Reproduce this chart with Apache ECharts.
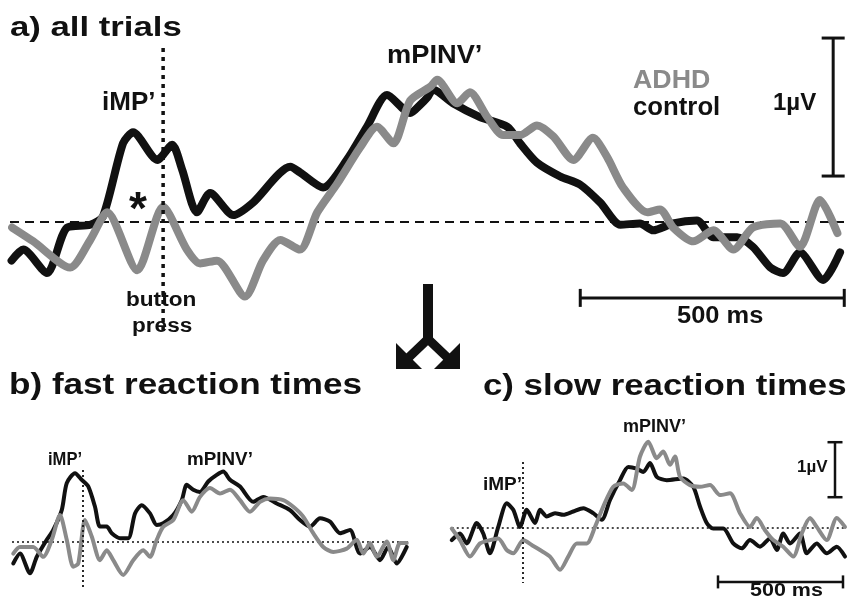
<!DOCTYPE html>
<html>
<head>
<meta charset="utf-8">
<script src="https://cdn.jsdelivr.net/npm/echarts@6/dist/echarts.min.js"></script>
<style>
  html, body { margin: 0; padding: 0; background: #fff; }
  #main { width: 849px; height: 598px; }
</style>
</head>
<body>
<div id="main"></div>
<script>
// time in ms (0 = button press), amplitude in µV

// a) all trials
var timeAControl = [-287,-265,-220,-182,-138,-114,-76,-57,-11,17,36,64,89,133,170,241,259,303,348,386,424,468,487,500,511,549,600,652,676,708,752,790,828,866,903,928,966,1011,1042,1087,1117,1150,1174,1206,1250,1282];
var uvAControl   = [-0.28,-0.20,-0.37,-0.04,-0.02,0.04,0.57,0.65,0.45,0.56,0.38,0.07,0.21,0.05,0.14,0.40,0.36,0.25,0.45,0.69,0.92,0.79,0.85,0.90,0.96,0.86,0.76,0.69,0.57,0.43,0.33,0.27,0.14,-0.02,-0.01,-0.06,-0.01,0.01,-0.11,-0.11,-0.18,-0.33,-0.37,-0.22,-0.42,-0.22];
var timeAAdhd = [-286,-246,-176,-138,-106,-49,0,45,70,102,155,189,222,259,292,330,373,405,436,468,506,519,557,581,614,644,676,708,739,777,814,841,871,917,941,966,1004,1042,1080,1117,1169,1206,1244,1277];
var uvAAdhd   = [-0.04,-0.14,-0.33,-0.13,0.07,-0.35,0.11,-0.20,-0.30,-0.28,-0.54,-0.28,-0.13,-0.20,0.07,0.28,0.54,0.69,0.57,0.88,0.98,1.03,0.86,0.94,0.76,0.63,0.63,0.70,0.62,0.45,0.61,0.47,0.25,0.07,0.09,-0.04,-0.14,-0.06,-0.20,-0.04,-0.01,-0.18,0.16,-0.08];

// b) fast reaction times
var timeBControl = [-279,-252,-212,-185,-145,-119,-85,-65,-32,-5,21,48,68,95,115,148,181,208,235,268,295,321,361,395,415,441,468,501,535,561,588,628,681,721,775,828,868,908,948,988,1028,1068,1108,1148,1188,1221,1255,1295];
var uvBControl   = [-0.39,-0.21,-0.57,-0.27,0.04,0.22,0.58,1.07,1.25,1.13,1.01,0.64,0.28,0.28,0.16,0.07,0.07,0.52,0.67,0.52,0.31,0.34,0.49,0.76,1.04,0.95,0.91,1.10,1.22,1.28,1.13,1.01,0.73,0.82,0.70,0.58,0.40,0.28,0.43,0.37,0.16,0.22,-0.21,-0.09,-0.33,-0.09,-0.39,-0.09];
var timeBAdhd = [-279,-252,-199,-159,-125,-92,-65,-39,-19,8,35,68,95,121,161,201,241,268,295,321,361,401,435,468,508,548,588,628,668,708,748,801,841,881,921,961,1001,1055,1095,1121,1148,1175,1215,1241,1268,1295];
var uvBAdhd   = [-0.21,-0.09,-0.09,-0.27,0.04,0.49,0.04,-0.45,-0.39,0.40,0.10,-0.33,-0.15,-0.33,-0.60,-0.33,-0.15,-0.27,0.04,0.28,0.40,0.76,0.55,0.82,0.98,0.88,0.95,0.76,0.55,0.73,0.79,0.76,0.64,0.46,0.16,-0.09,-0.18,-0.12,0.04,-0.21,-0.02,-0.27,0.01,-0.33,-0.02,-0.02];

// c) slow reaction times
var timeCControl = [-285,-252,-225,-185,-159,-132,-99,-65,-39,-12,15,48,68,95,128,161,201,241,281,315,348,388,421,455,481,508,535,575,641,681,708,735,761,801,841,875,908,948,988,1015,1041,1068,1108,1135,1175,1215,1255,1288];
var uvCControl   = [-0.22,-0.10,-0.28,0.09,-0.10,-0.46,0.02,0.45,0.33,0.02,0.33,0.09,0.33,0.21,0.27,0.24,0.30,0.36,0.27,0.15,0.51,0.87,1.11,1.08,1.02,1.18,0.93,0.87,0.90,0.75,0.39,0.09,-0.01,-0.01,-0.28,-0.37,-0.22,-0.34,-0.19,-0.40,-0.10,-0.28,-0.10,-0.46,-0.28,-0.46,-0.34,-0.52];
var timeCAdhd = [-285,-252,-212,-172,-132,-99,-65,-39,1,35,68,108,148,181,215,255,288,321,361,401,435,468,501,535,561,588,608,628,668,708,748,788,828,868,908,935,968,1001,1041,1081,1115,1148,1175,1215,1255,1288];
var uvCAdhd   = [-0.01,-0.22,-0.52,-0.28,-0.22,-0.19,-0.40,-0.46,-0.22,-0.31,-0.40,-0.52,-0.76,-0.52,-0.28,-0.28,0.02,0.39,0.75,0.81,0.69,1.30,1.57,1.27,1.39,1.15,1.30,0.93,0.78,0.75,0.78,0.60,0.63,0.27,0.02,0.18,-0.04,-0.22,-0.34,-0.52,-0.10,0.18,0.02,-0.22,0.18,0.02];

var BLACK = '#111111';
var GREY = '#8a8a8a';
var FONT = '"Liberation Sans", Arial, sans-serif';

var myChart = echarts.init(document.getElementById('main'));

function zip(t, v) {
  return t.map(function (x, i) { return [x, v[i]]; });
}

function wave(grid, t, v, color, width, z) {
  return {
    type: 'line', xAxisIndex: grid, yAxisIndex: grid,
    data: zip(t, v), showSymbol: false, smooth: 0.25, silent: true, z: z,
    lineStyle: { color: color, width: width, cap: 'round', join: 'round' }
  };
}

function refLine(grid, pts, width, dash, z) {
  return {
    type: 'line', xAxisIndex: grid, yAxisIndex: grid,
    data: pts, symbol: 'none', silent: true, z: z,
    lineStyle: { color: BLACK, width: width, type: dash }
  };
}

// H-shaped scale bar in data units
function scaleBar(grid, from, to, cap, width) {
  return {
    type: 'custom', xAxisIndex: grid, yAxisIndex: grid, silent: true, clip: false, z: 5,
    data: [[from[0], from[1], to[0], to[1]]],
    renderItem: function (params, api) {
      var a = api.coord([api.value(0), api.value(1)]);
      var b = api.coord([api.value(2), api.value(3)]);
      var h = cap / 2;
      var vert = Math.abs(a[0] - b[0]) < 1;
      var segs = [[a[0], a[1], b[0], b[1]]];
      if (vert) {
        segs.push([a[0] - h, a[1], a[0] + h, a[1]], [b[0] - h, b[1], b[0] + h, b[1]]);
      } else {
        segs.push([a[0], a[1] - h, a[0], a[1] + h], [b[0], b[1] - h, b[0], b[1] + h]);
      }
      return {
        type: 'group',
        children: segs.map(function (s) {
          return { type: 'line', shape: { x1: s[0], y1: s[1], x2: s[2], y2: s[3] },
                   style: { stroke: BLACK, lineWidth: width } };
        })
      };
    }
  };
}

function label(text, x, y, size, sx, color, align) {
  return {
    type: 'text', x: x, y: y, scaleX: sx, z: 10, silent: true,
    style: {
      text: text, fill: color || BLACK,
      fontSize: size, fontWeight: 'bold', fontFamily: FONT,
      align: align || 'left', verticalAlign: 'middle',
      textAlign: align || 'left', textVerticalAlign: 'middle'
    }
  };
}

function axisPair(n) {
  var xs = [], ys = [];
  for (var i = 0; i < n; i++) {
    xs.push({ type: 'value', gridIndex: i, min: -290, max: 1295, show: false });
  }
  ys.push({ type: 'value', gridIndex: 0, min: -0.9, max: 1.4, show: false });
  ys.push({ type: 'value', gridIndex: 1, min: -0.9, max: 1.9, show: false });
  ys.push({ type: 'value', gridIndex: 2, min: -1.15, max: 1.65, show: false });
  return { x: xs, y: ys };
}
var axes = axisPair(3);

var option = {
  animation: false,
  backgroundColor: '#ffffff',
  grid: [
    { left: 10, top: 28.8, width: 836.9, height: 317.4 },
    { left: 10.5, top: 437.5, width: 396.25, height: 154 },
    { left: 450.5, top: 437.25, width: 396.25, height: 154 }
  ],
  xAxis: axes.x,
  yAxis: axes.y,
  series: [
    // baselines and button-press markers
    refLine(0, [[-290, 0], [1290, 0]], 2, [9, 6], 1),
    refLine(0, [[0, 1.26], [0, -0.8]], 3.5, [4, 5], 6),
    refLine(1, [[-284, 0], [1300, 0]], 1.5, [2, 3], 1),
    refLine(1, [[0, 1.31], [0, -0.82]], 1.8, [2, 3], 6),
    refLine(2, [[-285, 0], [1290, 0]], 1.5, [2, 3], 1),
    refLine(2, [[0, 1.2], [0, -1.0]], 1.8, [2, 3], 6),

    wave(0, timeAControl, uvAControl, BLACK, 8, 2),
    wave(0, timeAAdhd, uvAAdhd, GREY, 8, 3),
    wave(1, timeBControl, uvBControl, BLACK, 4, 2),
    wave(1, timeBAdhd, uvBAdhd, GREY, 4, 3),
    wave(2, timeCControl, uvCControl, BLACK, 4, 2),
    wave(2, timeCAdhd, uvCAdhd, GREY, 4, 3),

    // scale bars: 1 µV and 500 ms
    scaleBar(0, [1269, 1.333], [1269, 0.333], 23, 3),
    scaleBar(0, [790, -0.55], [1290, -0.55], 18, 3),
    scaleBar(2, [1248, 1.56], [1248, 0.56], 15, 2.5),
    scaleBar(2, [780, -0.98], [1280, -0.98], 13, 2.5)
  ],
  graphic: [
    label('a) all trials', 10, 28, 28, 1.24),
    label('iMP\u2019', 102, 103, 26, 1.0),
    label('mPINV\u2019', 387, 56, 25, 1.09),
    label('ADHD', 633, 81, 25, 1.07, GREY),
    label('control', 633, 108, 25, 1.03),
    label('1\u00b5V', 773, 103.5, 24, 1.0),
    label('*', 138, 211, 46, 1.0, BLACK, 'center'),
    label('button', 126, 300, 20, 1.13),
    label('press', 132, 326, 20, 1.13),
    label('500 ms', 677, 316.5, 24, 1.06),

    label('b) fast reaction times', 9, 386, 30, 1.17),
    label('iMP\u2019', 48, 460, 18, 0.92),
    label('mPINV\u2019', 187, 460, 19, 0.99),

    label('c) slow reaction times', 483, 387, 30, 1.16),
    label('mPINV\u2019', 623, 427, 18, 1.0),
    label('iMP\u2019', 483, 485, 19, 1.0),
    label('1\u00b5V', 797, 467, 17, 1.0),
    label('500 ms', 750, 591, 19, 1.13),

    // split arrow between the panels
    {
      type: 'group', silent: true, z: 10,
      children: [
        { type: 'line', shape: { x1: 428, y1: 284, x2: 428, y2: 342 }, style: { stroke: BLACK, lineWidth: 10 } },
        { type: 'polyline', shape: { points: [[405, 361], [428, 339], [451, 361]] }, style: { stroke: BLACK, lineWidth: 9, fill: null } },
        { type: 'polygon', shape: { points: [[396, 343], [396, 369], [422, 369]] }, style: { fill: BLACK } },
        { type: 'polygon', shape: { points: [[460, 343], [460, 369], [434, 369]] }, style: { fill: BLACK } }
      ]
    }
  ]
};

myChart.setOption(option);
window.addEventListener('resize', myChart.resize, { passive: true });
</script>
</body>
</html>
